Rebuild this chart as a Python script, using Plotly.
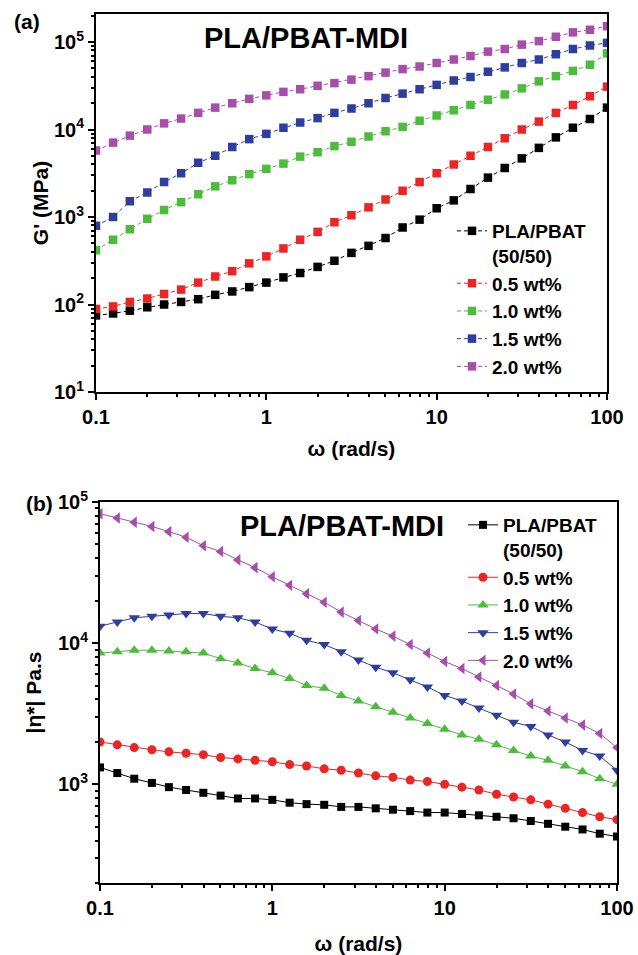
import plotly.graph_objects as go

W, H = 638, 955

omega = [0.1, 0.126, 0.158, 0.2, 0.251, 0.316, 0.398, 0.501, 0.631, 0.794,
         1, 1.26, 1.58, 2, 2.51, 3.16, 3.98, 5.01, 6.31, 7.94,
         10, 12.6, 15.8, 20, 25.1, 31.6, 39.8, 50.1, 63.1, 79.4, 100]

series_names = ["PLA/PBAT<br>(50/50)", "0.5 wt%", "1.0 wt%", "1.5 wt%", "2.0 wt%"]
colors = ["#000000", "#EC2424", "#4DBB3C", "#2D3E9E", "#A74EAA"]

# (a) storage modulus G' (MPa)
g_neat = [75, 79, 85, 93, 100, 107, 115, 129, 141, 158, 178, 204, 229, 269, 316, 389,
          468, 575, 759, 933, 1259, 1549, 2089, 2818, 3631, 4677, 6166, 8128, 10471, 13183, 17783]
g_05 = [89, 95, 107, 117, 132, 148, 178, 209, 240, 295, 355, 437, 550, 676, 871, 1047,
        1288, 1585, 1995, 2512, 3162, 3981, 5012, 6310, 7943, 10000, 12303, 15488, 19055, 23988, 30903]
g_10 = [417, 550, 724, 955, 1202, 1479, 1820, 2239, 2630, 3090, 3548, 4074, 4898, 5495, 6457, 7244,
        8318, 9550, 10715, 12589, 14454, 16596, 19055, 21878, 25119, 29512, 35481, 40738, 46774, 54954, 74131]
g_15 = [794, 1000, 1514, 1905, 2512, 3162, 4169, 5012, 6310, 7762, 8913, 10471, 12023, 13490, 15488, 17378,
        19953, 22909, 25704, 28840, 32359, 36308, 39811, 45709, 51286, 57544, 63096, 72444, 83176, 91201, 97724]
g_20 = [5754, 7079, 8511, 10000, 11749, 13335, 15488, 17783, 19953, 22387, 24547, 26915, 28840, 31623, 33884, 37154,
        40738, 44668, 48978, 52481, 57544, 63096, 69183, 77625, 83176, 93325, 102329, 114815, 128825, 138038, 151356]

# (b) complex viscosity |eta*| (Pa.s)
eta_neat = [1318, 1202, 1096, 1023, 955, 912, 871, 832, 794, 794, 776, 741, 724, 716, 692, 692,
            676, 661, 646, 631, 631, 617, 603, 589, 575, 550, 525, 501, 479, 447, 427]
eta_05 = [1995, 1905, 1820, 1758, 1698, 1660, 1622, 1549, 1514, 1479, 1445, 1380, 1349, 1288, 1259, 1202,
          1148, 1122, 1072, 1047, 1000, 955, 912, 851, 813, 776, 724, 676, 631, 589, 562]
eta_10 = [8511, 8710, 8913, 8913, 8810, 8710, 8511, 7762, 7244, 6607, 6166, 5623, 5012, 4786, 4266, 3890,
          3548, 3236, 2951, 2692, 2455, 2239, 2089, 1905, 1738, 1585, 1479, 1349, 1230, 1096, 1000]
eta_15 = [13183, 14125, 15136, 15488, 15849, 16218, 16218, 15488, 15136, 14125, 12589, 11749, 10471, 9772, 8710, 7586,
          6761, 6166, 5495, 4898, 4266, 3890, 3467, 3090, 2754, 2570, 2239, 1995, 1738, 1585, 1259]
eta_20 = [82604, 76913, 71945, 67143, 61660, 56234, 48978, 44668, 38905, 34277, 29512, 25704, 22387, 19498, 16596, 14454,
          12589, 11220, 9772, 8511, 7413, 6607, 5754, 5012, 4365, 3715, 3311, 2951, 2630, 2291, 1820]

x_tickvals = [0.1, 1, 10, 100]
x_ticktext = ["0.1", "1", "10", "100"]
ya_tickvals = [10, 100, 1000, 10000, 100000]
ya_ticktext = ["10<sup>1</sup>", "10<sup>2</sup>", "10<sup>3</sup>", "10<sup>4</sup>", "10<sup>5</sup>"]
yb_tickvals = [1000, 10000, 100000]
yb_ticktext = ["10<sup>3</sup>", "10<sup>4</sup>", "10<sup>5</sup>"]

# minor tick positions (2..9 within each decade)
minor_x = [m * 10.0 ** e for e in range(-1, 2) for m in range(2, 10)]
minor_ya = [m * 10.0 ** e for e in range(1, 6) for m in range(2, 10)]
minor_yb = [m * 10.0 ** e for e in range(2, 5) for m in range(2, 10)]

FONT = "Liberation Sans, Arial, sans-serif"

fig = go.Figure()

g_data = [g_neat, g_05, g_10, g_15, g_20]
for name, col, ys in zip(series_names, colors, g_data):
    fig.add_trace(go.Scatter(
        x=omega, y=ys, name=name, mode="lines+markers",
        line=dict(color=col, width=1, dash="4px,3px"),
        marker=dict(symbol="square", size=8.5, color=col, line=dict(width=0)),
        xaxis="x", yaxis="y", legend="legend"))

eta_data = [eta_neat, eta_05, eta_10, eta_15, eta_20]
symbols = ["square", "circle", "triangle-up", "triangle-down", "triangle-left"]
sizes = [8, 9, 10, 10, 10]
for name, col, ys, sym, sz in zip(series_names, colors, eta_data, symbols, sizes):
    fig.add_trace(go.Scatter(
        x=omega, y=ys, name=name, mode="lines+markers",
        line=dict(color=col, width=1),
        marker=dict(symbol=sym, size=sz, color=col, line=dict(width=0)),
        xaxis="x2", yaxis="y2", legend="legend2"))

tickfont = dict(family=FONT, size=20, color="black", weight="bold")
titlefont = dict(family=FONT, size=21, color="black", weight="bold")

def minor_cfg(vals):
    return dict(tickmode="array", tickvals=vals, ticks="outside", ticklen=3,
                tickwidth=1.5, tickcolor="black", showgrid=False)

def xax(domain, anchor, standoff):
    return dict(type="log", range=[-1, 2], domain=domain, anchor=anchor,
                tickmode="array", tickvals=x_tickvals, ticktext=x_ticktext,
                ticks="outside", ticklen=6, tickwidth=2, tickcolor="black",
                minor=minor_cfg(minor_x), ticklabeloverflow="allow",
                showline=True, linewidth=2, linecolor="black", mirror=True,
                showgrid=False, zeroline=False, tickfont=tickfont,
                title=dict(text="ω (rad/s)", font=titlefont, standoff=standoff),
                automargin=False)

def yax(domain, anchor, rng, tv, tt, mv, title, standoff):
    return dict(type="log", range=rng, domain=domain, anchor=anchor,
                tickmode="array", tickvals=tv, ticktext=tt,
                ticks="outside", ticklen=6, tickwidth=2, tickcolor="black",
                minor=minor_cfg(mv), ticklabeloverflow="allow",
                showline=True, linewidth=2, linecolor="black", mirror=True,
                showgrid=False, zeroline=False, tickfont=tickfont,
                title=dict(text=title, font=titlefont, standoff=standoff),
                automargin=False)

legend_font = dict(family=FONT, size=19, color="black", weight="bold")

fig.update_layout(
    width=W, height=H,
    margin=dict(l=0, r=0, t=0, b=0),
    paper_bgcolor="white", plot_bgcolor="white",
    font=dict(family=FONT, color="black"),
    xaxis=xax([96 / W, 607 / W], "y", 14),
    yaxis=yax([1 - 392 / H, 1 - 14 / H], "x", [1, 5.32], ya_tickvals, ya_ticktext, minor_ya, "G' (MPa)", 0),
    xaxis2=xax([100 / W, 617 / W], "y2", 18),
    yaxis2=yax([1 - 883 / H, 1 - 502 / H], "x2", [2.301, 5], yb_tickvals, yb_ticktext, minor_yb, "|η*| Pa.s", 11),
    legend=dict(x=452 / W, y=1 - 212 / H, xanchor="left", yanchor="top",
                bgcolor="rgba(0,0,0,0)", borderwidth=0, valign="top",
                font=legend_font, tracegroupgap=0, itemwidth=30),
    legend2=dict(x=463 / W, y=1 - 506 / H, xanchor="left", yanchor="top",
                 bgcolor="rgba(0,0,0,0)", borderwidth=0, valign="top",
                 font=legend_font, tracegroupgap=0, itemwidth=30),
    showlegend=True,
    annotations=[
        dict(text="(a)", x=27 / W, y=1 - 22 / H, xref="paper", yref="paper",
             xanchor="center", yanchor="middle", showarrow=False,
             font=dict(family=FONT, size=21, color="black", weight="bold")),
        dict(text="(b)", x=39 / W, y=1 - 503 / H, xref="paper", yref="paper",
             xanchor="center", yanchor="middle", showarrow=False,
             font=dict(family=FONT, size=21, color="black", weight="bold")),
        dict(text="PLA/PBAT-MDI", x=306 / W, y=1 - 38 / H, xref="paper", yref="paper",
             xanchor="center", yanchor="middle", showarrow=False,
             font=dict(family=FONT, size=29, color="black", weight="bold")),
        dict(text="PLA/PBAT-MDI", x=342 / W, y=1 - 526 / H, xref="paper", yref="paper",
             xanchor="center", yanchor="middle", showarrow=False,
             font=dict(family=FONT, size=29, color="black", weight="bold")),
    ],
)

fig.write_html("out.html",
               config={"displayModeBar": False},
               post_script="document.body.style.margin='0px';"
                           "document.documentElement.style.overflow='hidden';")
